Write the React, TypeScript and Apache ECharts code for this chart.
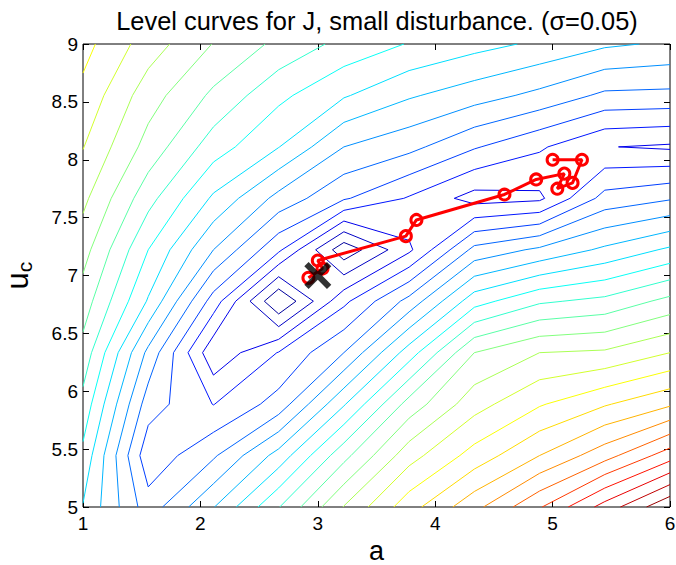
import React, { useEffect, useRef } from "react";
import * as echarts from "echarts";

// grid nodes of the J surface
const A_NODES = [1, 1.5556, 2.1111, 2.6667, 3.2222, 3.7778, 4.3333, 4.8889, 5.4444, 6];
const UC_NODES = [5, 5.4444, 5.8889, 6.3333, 6.7778, 7.2222, 7.6667, 8.1111, 8.5556, 9];

// J values (in contour-level units), one row per UC node (bottom to top)
const J_U0 = [6.94, 3.45, 5.95, 8.95, 12.05, 14.6, 16.69, 18.9, 21.4, 23.9];
const J_U1 = [7.75, 2.3, 3.85, 6.39, 9.68, 12.6, 14.4, 16.0, 17.6, 19.54];
const J_U2 = [8.67, 3.49, 1.97, 3.4, 6.9, 10.4, 12.6, 13.9, 14.9, 15.85];
const J_U3 = [9.64, 4.74, 0.25, 2.05, 4.0, 7.5, 11.0, 12.0, 12.15, 13.0];
const J_U4 = [10.53, 6.9, 2.55, -2.0, 1.76, 4.35, 7.6, 8.85, 9.27, 10.3];
const J_U5 = [11.4, 8.0, 5.0, 2.2, -1.68, 0.8, 4.3, 5.2, 6.2, 7.18];
const J_U6 = [12.25, 9.36, 6.83, 4.67, 3.12, 1.9, 0.6, 0.8, 3.37, 3.9];
const J_U7 = [13.04, 10.63, 8.49, 7.03, 5.0, 4.3, 3.1, 2.14, 1.04, 0.85];
const J_U8 = [13.73, 11.45, 9.8, 8.25, 7.1, 6.12, 5.45, 4.73, 3.79, 3.73];
const J_U9 = [14.35, 12.51, 10.96, 9.75, 8.7, 7.94, 7.35, 6.82, 6.17, 5.85];
const J_GRID = [J_U0, J_U1, J_U2, J_U3, J_U4, J_U5, J_U6, J_U7, J_U8, J_U9];

const LEVELS = [-1, 0, 1, 2, 3, 4, 5, 6, 7, 8, 9, 10, 11, 12, 13, 14, 15, 16, 17, 18, 19, 20, 21, 22, 23];
const COLOR_MIN = -1.7;
const COLOR_MAX = 23.6;

// optimisation path (red) and optimum (black X)
const PATH_A = [5.0, 5.25, 5.17, 5.04, 5.1, 4.86, 4.59, 3.84, 3.75, 3.0, 3.04, 2.92];
const PATH_UC = [8.0, 8.0, 7.8, 7.75, 7.88, 7.83, 7.7, 7.48, 7.34, 7.13, 7.06, 6.98];
const OPT_A = [3];
const OPT_UC = [7];

const TITLE = "Level curves for J, small disturbance. (\u03c3=0.05)";
const FONT = "'Liberation Sans', Arial, Helvetica, sans-serif";

function jet(f: number): string {
  const c = (x: number) => Math.max(0, Math.min(1, x));
  const r = c(1.5 - Math.abs(4 * f - 3));
  const g = c(1.5 - Math.abs(4 * f - 2));
  const b = c(1.5 - Math.abs(4 * f - 1));
  return `rgb(${Math.round(r * 255)},${Math.round(g * 255)},${Math.round(b * 255)})`;
}

function contourLines(Z: number[][], xs: number[], ys: number[], level: number): number[][][] {
  const pts: Record<string, number[]> = {};
  const segs: [string, string][] = [];
  const hPoint = (i: number, j: number) => {
    const key = `h${i}_${j}`;
    if (!pts[key]) {
      const t = (level - Z[j][i]) / (Z[j][i + 1] - Z[j][i]);
      pts[key] = [xs[i] + t * (xs[i + 1] - xs[i]), ys[j]];
    }
    return key;
  };
  const vPoint = (i: number, j: number) => {
    const key = `v${i}_${j}`;
    if (!pts[key]) {
      const t = (level - Z[j][i]) / (Z[j + 1][i] - Z[j][i]);
      pts[key] = [xs[i], ys[j] + t * (ys[j + 1] - ys[j])];
    }
    return key;
  };
  for (let j = 0; j < ys.length - 1; j++) {
    for (let i = 0; i < xs.length - 1; i++) {
      const z0 = Z[j][i], z1 = Z[j][i + 1], z2 = Z[j + 1][i + 1], z3 = Z[j + 1][i];
      const s0 = z0 >= level, s1 = z1 >= level, s2 = z2 >= level, s3 = z3 >= level;
      const B = s0 !== s1 ? hPoint(i, j) : null;
      const R = s1 !== s2 ? vPoint(i + 1, j) : null;
      const T = s3 !== s2 ? hPoint(i, j + 1) : null;
      const L = s0 !== s3 ? vPoint(i, j) : null;
      const list = [B, R, T, L].filter((k) => k !== null) as string[];
      if (list.length === 2) segs.push([list[0], list[1]]);
      else if (list.length === 4) {
        const center = (z0 + z1 + z2 + z3) / 4 >= level;
        if (center === s0) {
          segs.push([B as string, R as string]);
          segs.push([T as string, L as string]);
        } else {
          segs.push([L as string, B as string]);
          segs.push([R as string, T as string]);
        }
      }
    }
  }
  const adj: Record<string, number[]> = {};
  segs.forEach((s, k) => {
    (adj[s[0]] = adj[s[0]] || []).push(k);
    (adj[s[1]] = adj[s[1]] || []).push(k);
  });
  const used = segs.map(() => false);
  const lines: number[][][] = [];
  for (let k = 0; k < segs.length; k++) {
    if (used[k]) continue;
    used[k] = true;
    const chain = [segs[k][0], segs[k][1]];
    const extend = (atEnd: boolean) => {
      for (;;) {
        const key = atEnd ? chain[chain.length - 1] : chain[0];
        const next = (adj[key] || []).find((m) => !used[m]);
        if (next === undefined) break;
        used[next] = true;
        const other = segs[next][0] === key ? segs[next][1] : segs[next][0];
        if (atEnd) chain.push(other);
        else chain.unshift(other);
      }
    };
    extend(true);
    extend(false);
    lines.push(chain.map((key) => pts[key]));
  }
  return lines;
}

export default function App() {
  const ref = useRef<HTMLDivElement>(null);
  useEffect(() => {
    if (!ref.current) return;
    const chart = echarts.init(ref.current, undefined, { renderer: "svg" });

    const contourSeries = LEVELS.map((lv) => ({
      type: "lines",
      coordinateSystem: "cartesian2d",
      polyline: true,
      silent: true,
      z: 2,
      lineStyle: {
        color: jet((lv - COLOR_MIN) / (COLOR_MAX - COLOR_MIN)),
        width: 1,
        opacity: 1,
        curveness: 0,
      },
      data: contourLines(J_GRID, A_NODES, UC_NODES, lv).map((p) => ({ coords: p })),
    }));

    const axisCommon = {
      type: "value",
      axisLine: { show: false },
      splitLine: { show: false },
      axisTick: { inside: true, length: 6, lineStyle: { color: "#000", width: 1 } },
    };

    chart.setOption({
      animation: false,
      backgroundColor: "#fff",
      grid: {
        left: 83,
        right: 6,
        top: 44,
        bottom: 58,
        containLabel: false,
        outerBoundsMode: "none",
        show: true,
        borderColor: "#000",
        borderWidth: 1,
      },
      graphic: [
        {
          type: "text",
          x: 377,
          y: 21,
          style: {
            text: TITLE,
            fontSize: 25.4,
            fontFamily: FONT,
            fill: "#000",
            textAlign: "center",
            textVerticalAlign: "middle",
          },
        },
      ],
      xAxis: [
        {
          ...axisCommon,
          min: 1,
          max: 6,
          interval: 1,
          position: "bottom",
          axisLabel: { color: "#000", fontSize: 19, fontFamily: FONT, margin: 7 },
          name: "a",
          nameLocation: "middle",
          nameGap: 16,
          nameTextStyle: { color: "#000", fontSize: 27, lineHeight: 27, fontFamily: FONT },
        },
        { ...axisCommon, min: 1, max: 6, interval: 1, position: "top", axisLabel: { show: false } },
      ],
      yAxis: [
        {
          ...axisCommon,
          min: 5,
          max: 9,
          interval: 0.5,
          position: "left",
          axisLabel: { color: "#000", fontSize: 19, fontFamily: FONT, margin: 5 },
          name: "{u|u}{c|c}",
          nameLocation: "middle",
          nameGap: 48,
          nameRotate: 90,
          nameTextStyle: {
            color: "#000",
            fontFamily: FONT,
            rich: {
              u: { fontSize: 31, fontFamily: FONT, color: "#000" },
              c: { fontSize: 21, fontFamily: FONT, color: "#000", padding: [14, 0, 0, 0] },
            },
          },
        },
        { ...axisCommon, min: 5, max: 9, interval: 0.5, position: "right", axisLabel: { show: false } },
      ],
      series: [
        ...contourSeries,
        {
          type: "line",
          z: 5,
          data: PATH_A.map((a, k) => [a, PATH_UC[k]]),
          symbol: "circle",
          symbolSize: 11,
          showSymbol: true,
          lineStyle: { color: "#ff0000", width: 3 },
          itemStyle: { color: "rgba(255,255,255,0)", borderColor: "#ff0000", borderWidth: 3 },
          silent: true,
        },
        {
          type: "scatter",
          z: 6,
          data: OPT_A.map((a, k) => [a, OPT_UC[k]]),
          symbol:
            "path://M0,1.6L1.6,0L5,3.4L8.4,0L10,1.6L6.6,5L10,8.4L8.4,10L5,6.6L1.6,10L0,8.4L3.4,5Z",
          symbolSize: 27,
          itemStyle: { color: "#000", borderWidth: 0 },
          silent: true,
        },
      ],
    });
    return () => chart.dispose();
  }, []);
  return <div ref={ref} style={{ position: "fixed", left: 0, top: 0, width: 676, height: 565 }} />;
}
